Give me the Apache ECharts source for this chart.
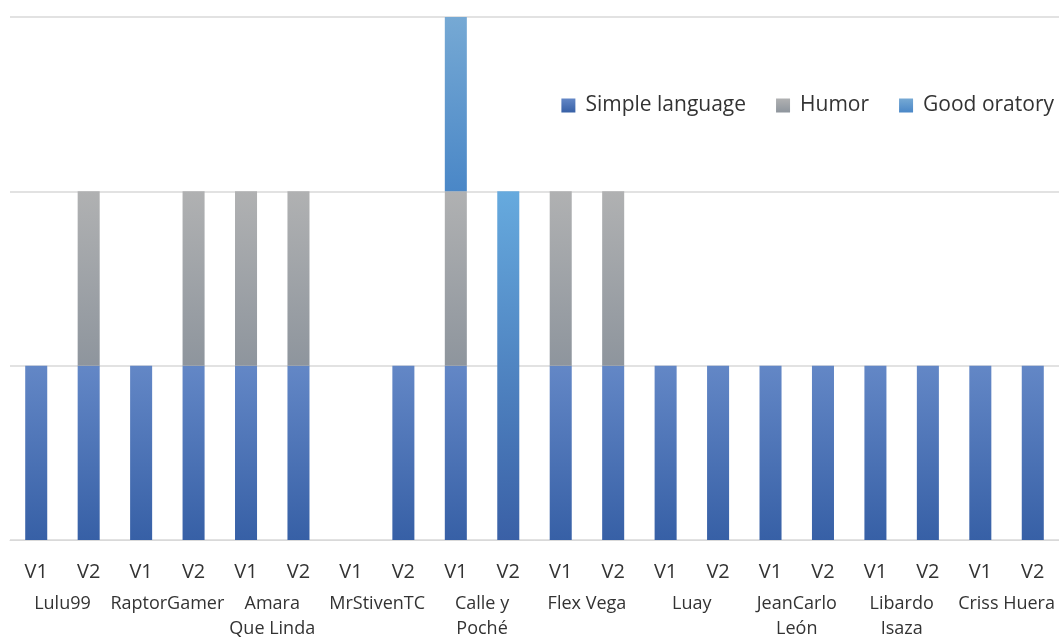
<!DOCTYPE html>
<html>
<head>
<meta charset="utf-8">
<script src="https://cdn.jsdelivr.net/npm/echarts@6/dist/echarts.min.js"></script>
<style>
  html, body { margin: 0; padding: 0; background: #fff; }
  #chart { width: 1059px; height: 637px; }
</style>
</head>
<body>
<div id="chart"></div>
<script>
// data
const versions = ["V1","V2","V1","V2","V1","V2","V1","V2","V1","V2","V1","V2","V1","V2","V1","V2","V1","V2","V1","V2"];
const groups = ["Lulu99","RaptorGamer","Amara\nQue Linda","MrStivenTC","Calle y\nPoché","Flex Vega","Luay","JeanCarlo\nLeón","Libardo\nIsaza","Criss Huera"];
const simpleLanguage = [1,1,1,1,1,1,0,1,1,0,1,1,1,1,1,1,1,1,1,1];
const humor          = [0,1,0,1,1,1,0,0,1,0,1,1,0,0,0,0,0,0,0,0];
const goodOratory    = [0,0,0,0,0,0,0,0,1,2,0,0,0,0,0,0,0,0,0,0];

const font = "'Open Sans', 'Liberation Sans', sans-serif";

function grad(top, bottom) {
  return new echarts.graphic.LinearGradient(0, 0, 0, 1, [
    { offset: 0, color: top },
    { offset: 1, color: bottom }
  ]);
}

const chart = echarts.init(document.getElementById("chart"));

// the lone 2-high good oratory bar has a longer, darker gradient
const oratoryData = goodOratory.map((v, i) => {
  if (v === 2) {
    return { value: v, itemStyle: { color: grad("#66aade", "#3a60a6") } };
  }
  return v;
});

const option = {
  animation: false,
  textStyle: { fontFamily: font },
  grid: { left: 10, right: 0, top: 17, bottom: 97, containLabel: false, outerBoundsMode: "none" },
  legend: {
    top: 90,
    right: 0,
    itemWidth: 14,
    itemHeight: 14,
    itemGap: 30,
    icon: "rect",
    textStyle: { fontSize: 21, color: "#333", fontFamily: font, padding: [0, 0, 0, 5] },
    data: ["Simple language", "Humor", "Good oratory"]
  },
  xAxis: [
    {
      type: "category",
      data: versions,
      axisLine: { show: true, lineStyle: { color: "#d9d9d9", width: 1 } },
      axisTick: { show: false },
      axisLabel: { fontSize: 20, color: "#333", margin: 22, interval: 0 }
    },
    {
      type: "category",
      position: "bottom",
      offset: 40,
      data: groups,
      axisLine: { show: false },
      axisTick: { show: false },
      axisLabel: { fontSize: 18, color: "#333", margin: 11, interval: 0, lineHeight: 25, verticalAlign: "top" }
    }
  ],
  yAxis: {
    type: "value",
    min: 0,
    max: 3,
    interval: 1,
    axisLabel: { show: false },
    axisLine: { show: false },
    axisTick: { show: false },
    splitLine: { lineStyle: { color: "#d9d9d9", width: 1.5 } }
  },
  series: [
    {
      name: "Simple language",
      type: "bar",
      stack: "total",
      barWidth: "42%",
      data: simpleLanguage,
      itemStyle: { color: grad("#6387c6", "#3760a6") }
    },
    {
      name: "Humor",
      type: "bar",
      stack: "total",
      data: humor,
      itemStyle: { color: grad("#b0b1b2", "#8e959d") }
    },
    {
      name: "Good oratory",
      type: "bar",
      stack: "total",
      data: oratoryData,
      itemStyle: { color: grad("#76a9d4", "#4a87c7") }
    }
  ]
};

chart.setOption(option);
</script>
</body>
</html>
